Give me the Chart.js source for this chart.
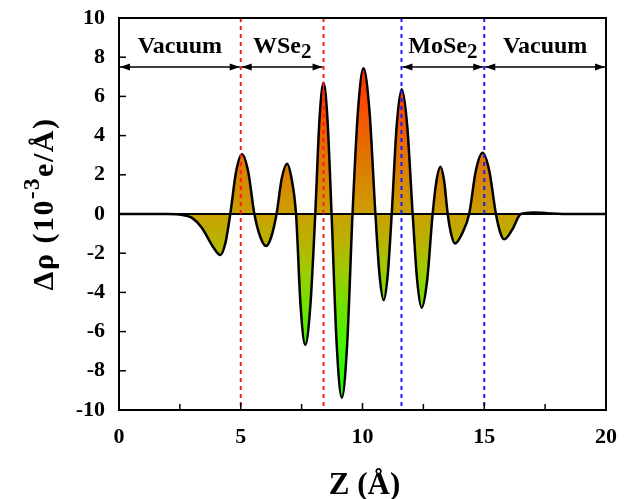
<!DOCTYPE html>
<html><head><meta charset="utf-8">
<script src="https://cdn.jsdelivr.net/npm/chart.js@4.4.0/dist/chart.umd.min.js"></script>
<style>html,body{margin:0;padding:0;background:#fff}#wrap{width:626px;height:499px}</style>
</head><body><div id="wrap"><canvas id="c" width="626" height="499"></canvas></div>
<script>
// ---- data ----
const zValues = [0, 2.0, 2.6, 3.0, 3.4, 3.9, 4.16, 4.37, 4.57,
  4.81, 5.05, 5.305, 5.56, 5.80, 6.04, 6.255, 6.47, 6.685, 6.9, 7.085, 7.27,
  7.46, 7.65, 7.855, 8.06, 8.23, 8.4, 8.565, 8.73, 8.94, 9.15, 9.37, 9.59,
  9.815, 10.04, 10.285, 10.53, 10.7, 10.87, 11.035, 11.2, 11.405, 11.61, 11.835, 12.06,
  12.245, 12.43, 12.655, 12.88, 13.04, 13.2, 13.35, 13.5, 13.65, 13.8, 14.09, 14.38,
  14.655, 14.93, 15.205, 15.48, 15.65, 15.82, 16.15, 16.5, 17.0, 17.6, 18.5, 20];
const rhoValues = [0, 0, -0.05, -0.2, -0.7, -1.75, -2.09, -1.48, 0,
  2.17, 3.05, 2.17, 0, -1.16, -1.63, -1.16, 0, 1.82, 2.57, 1.82, 0,
  -4.74, -6.68, -4.74, 0, 4.76, 6.7, 4.76, 0, -6.65, -9.37, -6.65, 0,
  5.28, 7.43, 5.28, 0, -3.12, -4.4, -3.12, 0, 4.52, 6.36, 4.52, 0,
  -3.39, -4.78, -3.39, 0, 1.71, 2.41, 1.71, 0, -1.07, -1.51, -1.0, 0,
  2.22, 3.13, 2.22, 0, -0.92, -1.29, -0.8, 0, 0.08, 0.04, 0, 0];
const xTicks = [0, 5, 10, 15, 20];
const xMinorTicks = [2.5, 7.5, 12.5, 17.5];
const yTicks = [-10, -8, -6, -4, -2, 0, 2, 4, 6, 8, 10];
const redLines = [5.0, 8.4];
const blueLines = [11.6, 15.0];
const regionBounds = [[0, 5], [5, 8.4], [11.6, 15], [15, 20]];
const regionNames = ['Vacuum', 'WSe', 'MoSe', 'Vacuum'];
const regionSubs = ['', '2', '2', ''];
const arrowLevel = 7.5;
const labelLevel = 8.2;
const xTitle = 'Z (Å)';
const yTitleParts = ['Δρ (10', '-3', 'e/Å)'];

const FONT = '"Liberation Serif", "Times New Roman", serif';
const points = zValues.map((z, i) => ({x: z, y: rhoValues[i]}));

function fillGradient(ctx) {
  const chart = ctx.chart;
  const ys = chart.scales.y;
  if (!chart.chartArea || !ys) return '#ccaa00';
  const top = ys.getPixelForValue(7.5), bot = ys.getPixelForValue(-9.4);
  const g = chart.ctx.createLinearGradient(0, top, 0, bot);
  const stop = (v, c) => g.addColorStop(Math.min(1, Math.max(0, (ys.getPixelForValue(v) - top) / (bot - top))), c);
  stop(7.5, '#ff2a00');
  stop(6, '#ff4400');
  stop(3, '#e27400');
  stop(0, '#caa000');
  stop(-1.5, '#b8b400');
  stop(-3, '#9ccc00');
  stop(-6, '#52f000');
  stop(-9.4, '#1eff00');
  return g;
}

const overlay = {
  id: 'overlay',
  afterDatasetsDraw(chart) {
    const ctx = chart.ctx, xs = chart.scales.x, ys = chart.scales.y, a = chart.chartArea;
    ctx.save();
    // zero line
    ctx.strokeStyle = '#000'; ctx.lineWidth = 2;
    ctx.beginPath(); ctx.moveTo(a.left, ys.getPixelForValue(0)); ctx.lineTo(a.right, ys.getPixelForValue(0)); ctx.stroke();
    // dashed vertical lines
    ctx.lineWidth = 2; ctx.setLineDash([4, 4]);
    const vline = (v, col) => { const px = xs.getPixelForValue(v); ctx.strokeStyle = col; ctx.beginPath(); ctx.moveTo(px, a.top); ctx.lineTo(px, a.bottom); ctx.stroke(); };
    redLines.forEach(v => vline(v, '#ff1a1a'));
    blueLines.forEach(v => vline(v, '#1a1aff'));
    ctx.setLineDash([]);
    // arrows
    ctx.strokeStyle = '#000'; ctx.fillStyle = '#000'; ctx.lineWidth = 1.5;
    const ay = ys.getPixelForValue(arrowLevel);
    const head = (x, dir) => { ctx.beginPath(); ctx.moveTo(x, ay); ctx.lineTo(x - dir * 10, ay - 3.5); ctx.lineTo(x - dir * 10, ay + 3.5); ctx.closePath(); ctx.fill(); };
    regionBounds.forEach(([l, r]) => {
      const x1 = xs.getPixelForValue(l) + 1, x2 = xs.getPixelForValue(r) - 1;
      ctx.beginPath(); ctx.moveTo(x1, ay); ctx.lineTo(x2, ay); ctx.stroke();
      head(x1, -1); head(x2, 1);
    });
    // region labels
    const ly = ys.getPixelForValue(labelLevel);
    ctx.textBaseline = 'alphabetic'; ctx.textAlign = 'left';
    regionBounds.forEach(([l, r], i) => {
      const cx = xs.getPixelForValue((l + r) / 2);
      ctx.font = 'bold 24px ' + FONT;
      const w1 = ctx.measureText(regionNames[i]).width;
      ctx.font = 'bold 21px ' + FONT;
      const w2 = regionSubs[i] ? ctx.measureText(regionSubs[i]).width : 0;
      const x0 = cx - (w1 + w2) / 2;
      ctx.font = 'bold 24px ' + FONT;
      ctx.fillText(regionNames[i], x0, ly);
      if (regionSubs[i]) { ctx.font = 'bold 21px ' + FONT; ctx.fillText(regionSubs[i], x0 + w1, ly + 5); }
    });
    // frame top/right
    ctx.lineWidth = 2; ctx.strokeStyle = '#000';
    ctx.beginPath(); ctx.moveTo(a.left, a.top); ctx.lineTo(a.right, a.top); ctx.lineTo(a.right, a.bottom); ctx.stroke();
    // inward ticks
    ctx.lineWidth = 1.5;
    xTicks.forEach(v => { const px = xs.getPixelForValue(v); ctx.beginPath(); ctx.moveTo(px, a.bottom); ctx.lineTo(px, a.bottom - 7); ctx.stroke(); });
    xMinorTicks.forEach(v => { const px = xs.getPixelForValue(v); ctx.beginPath(); ctx.moveTo(px, a.bottom); ctx.lineTo(px, a.bottom - 6); ctx.stroke(); });
    yTicks.forEach(v => { const py = ys.getPixelForValue(v); ctx.beginPath(); ctx.moveTo(a.left, py); ctx.lineTo(a.left + 7, py); ctx.stroke(); });
    // axis titles
    ctx.fillStyle = '#000';
    ctx.font = 'bold 31px ' + FONT; ctx.textAlign = 'center'; ctx.textBaseline = 'alphabetic';
    ctx.fillText(xTitle, (a.left + a.right) / 2 + 2, 494);
    ctx.save();
    ctx.translate(53, 204); ctx.rotate(-Math.PI / 2);
    ctx.textAlign = 'left';
    if ('letterSpacing' in ctx) ctx.letterSpacing = '1.5px';
    const fBig = 'bold 30px ' + FONT, fSmall = 'bold 23px ' + FONT;
    ctx.font = fBig; const wa = ctx.measureText(yTitleParts[0]).width;
    ctx.font = fSmall; const wb = ctx.measureText(yTitleParts[1]).width;
    ctx.font = fBig; const wc = ctx.measureText(yTitleParts[2]).width;
    let sx = -(wa + wb + wc) / 2;
    ctx.font = fBig; ctx.fillText(yTitleParts[0], sx, 0); sx += wa;
    ctx.font = fSmall; ctx.fillText(yTitleParts[1], sx, -14); sx += wb;
    ctx.font = fBig; ctx.fillText(yTitleParts[2], sx, 0);
    ctx.restore();
    ctx.restore();
  }
};

const noPad = s => { s.paddingLeft = 0; s.paddingRight = 0; s.paddingTop = 0; s.paddingBottom = 0; };

new Chart(document.getElementById('c'), {
  type: 'line',
  data: { datasets: [{
    data: points,
    borderColor: '#000', borderWidth: 2.5,
    backgroundColor: fillGradient,
    fill: 'origin', pointRadius: 0,
    cubicInterpolationMode: 'monotone'
  }]},
  options: {
    responsive: false, animation: false, devicePixelRatio: 1,
    layout: { padding: { top: 18, right: 20, left: 0, bottom: 0 }, autoPadding: false },
    plugins: { legend: { display: false }, tooltip: { enabled: false } },
    scales: {
      x: {
        type: 'linear', min: 0, max: 20,
        afterBuildTicks: s => { s.ticks = xTicks.map(v => ({ value: v })); },
        afterFit: s => { s.height = 89; noPad(s); },
        ticks: { color: '#000', font: { family: FONT, size: 22, weight: 'bold' }, padding: 14, maxRotation: 0 },
        grid: { display: false, drawTicks: false },
        border: { display: true, color: '#000', width: 2 }
      },
      y: {
        type: 'linear', min: -10, max: 10,
        afterBuildTicks: s => { s.ticks = yTicks.map(v => ({ value: v })); },
        afterFit: s => { s.width = 119; noPad(s); },
        ticks: { color: '#000', font: { family: FONT, size: 22, weight: 'bold' }, padding: 14 },
        grid: { display: false, drawTicks: false },
        border: { display: true, color: '#000', width: 2 }
      }
    }
  },
  plugins: [overlay]
});
</script></body></html>
